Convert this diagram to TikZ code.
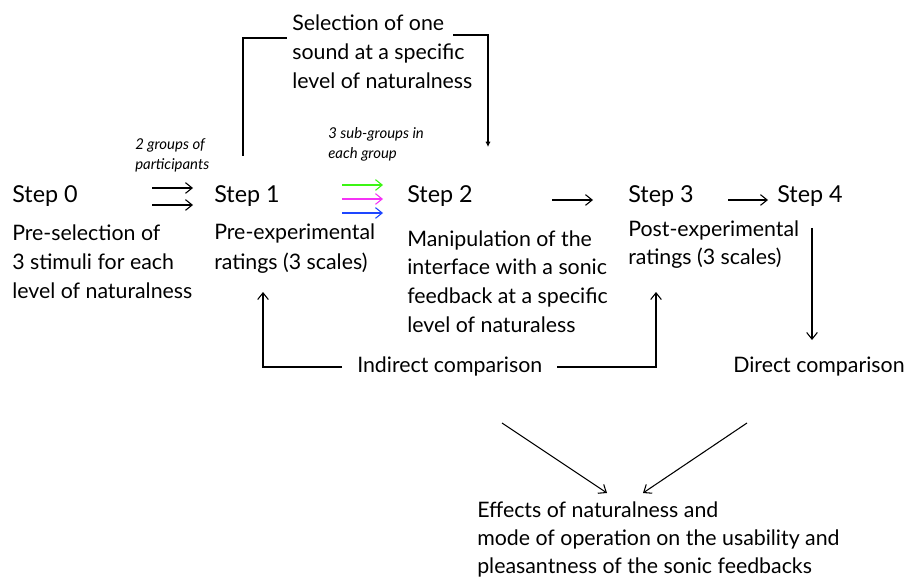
\documentclass[tikz,border=0pt]{standalone}
\usepackage{fontspec}
\setmainfont{Lato}
\usetikzlibrary{arrows.meta}
\definecolor{grn}{RGB}{60,245,20}
\definecolor{mag}{RGB}{245,50,245}
\definecolor{blu}{RGB}{30,70,255}
\tikzset{
  txt/.style={anchor=base west, inner sep=0pt, align=left, font={\fontsize{16}{21.75}\selectfont}},
  steptxt/.style={anchor=base west, inner sep=0pt, font={\fontsize{17.5}{23}\selectfont}},
  itxt/.style={anchor=base west, inner sep=0pt, align=left, font={\fontsize{11.2}{15}\selectfont\itshape}},
  arr/.style={line width=0.8pt, -{Straight Barb[length=5pt,width=8pt]}},
  arrS/.style={line width=0.8pt, -{Latex[length=4pt,width=4pt]}},
  ln/.style={line width=0.8pt}
}
\begin{document}
\begin{tikzpicture}[x=0.75pt,y=-0.75pt]
\useasboundingbox (0,0) rectangle (906,577);
% texts (anchor = baseline of last line)
\node[txt] (sel) at (292,89) {Selection of one\\sound at a specific\\level of naturalness};
\node[itxt] (grp) at (135,170) {2 groups of\\participants};
\node[itxt] (sub) at (328,159) {3 sub-groups in\\each group};
\node[steptxt] (s0) at (12,203) {Step 0};
\node[steptxt] (s1) at (214,203) {Step 1};
\node[steptxt] (s2) at (407,203) {Step 2};
\node[steptxt] (s3) at (628,203) {Step 3};
\node[steptxt] (s4) at (777,203) {Step 4};
\node[txt] (d0) at (12,298) {Pre-selection of\\3 stimuli for each\\level of naturalness};
\node[txt] (d1) at (214,269) {Pre-experimental\\ratings (3 scales)};
\node[txt, font={\fontsize{16}{21.5}\selectfont}] (d2) at (407,332) {Manipulation of the\\interface with a sonic\\feedback at a specific\\level of naturaless};
\node[txt, font={\fontsize{16}{21}\selectfont}] (d3) at (628,265) {Post-experimental\\ratings (3 scales)};
\node[txt] (ind) at (357,372) {Indirect comparison};
\node[txt] (dir) at (733,372) {Direct comparison};
\node[txt, font={\fontsize{16}{21}\selectfont}] (eff) at (477,573) {Effects of naturalness and\\mode of operation on the usability and\\pleasantness of the sonic feedbacks};
% coordinates
\coordinate (a0) at (152,188); \coordinate (b0) at (193,188);
\coordinate (a1) at (152,205); \coordinate (b1) at (193,205);
\coordinate (g0) at (342,185); \coordinate (g1) at (383,185);
\coordinate (m0) at (342,199); \coordinate (m1) at (383,199);
\coordinate (u0) at (342,213); \coordinate (u1) at (383,213);
\coordinate (c0) at (552,200); \coordinate (c1) at (593,200);
\coordinate (e0) at (728,200); \coordinate (e1) at (768,200);
\coordinate (v0) at (812,228); \coordinate (v1) at (812,340);
\coordinate (l0) at (502,423); \coordinate (l1) at (607,493);
\coordinate (r0) at (747,423); \coordinate (r1) at (643,493);
\coordinate (i0) at (342,367); \coordinate (it) at (263,292);
\coordinate (j0) at (557,367); \coordinate (jt) at (656,292);
\coordinate (sl) at (243,156); \coordinate (slt) at (287,38);
\coordinate (sr) at (453,35); \coordinate (srt) at (488,147);
% connectors
\draw[ln] (sl) |- (slt);
\draw[arrS] (sr) -| (srt);
\draw[arr] (a0) -- (b0);
\draw[arr] (a1) -- (b1);
\draw[arr, grn] (g0) -- (g1);
\draw[arr, mag] (m0) -- (m1);
\draw[arr, blu] (u0) -- (u1);
\draw[arr] (c0) -- (c1);
\draw[arr] (e0) -- (e1);
\draw[arr] (v0) -- (v1);
\draw[arr] (i0) -| (it);
\draw[arr] (j0) -| (jt);
\draw[arr] (l0) -- (l1);
\draw[arr] (r0) -- (r1);
\end{tikzpicture}
\end{document}
